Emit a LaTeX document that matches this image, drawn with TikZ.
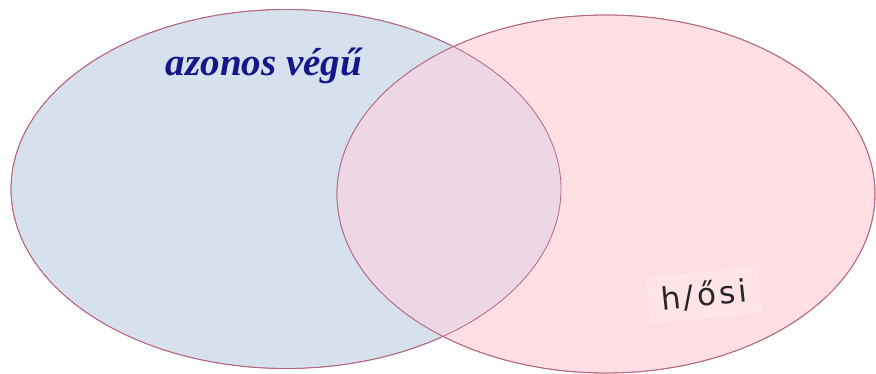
\documentclass[tikz,border=0pt]{standalone}
\usepackage{fontspec}
\setmainfont{Liberation Serif}
\newfontfamily\handfont[LetterSpace=10]{DejaVu Sans}
\usepackage{xcolor}
\usetikzlibrary{shapes.geometric}
\definecolor{Rim}{HTML}{B5647F}
\definecolor{SoftBlue}{HTML}{D7E1EE}
\definecolor{SoftPink}{HTML}{FFDEE4}
\definecolor{SoftMauve}{HTML}{EED7E4}
\definecolor{PalePink}{HTML}{FFE3E8}
\definecolor{Navy}{HTML}{16168A}

\begin{document}
\begin{tikzpicture}[x=1pt,y=-1pt]
  \tikzset{
    setshape/.style={
      ellipse,
      draw=Rim,
      line width=0.8pt,
      inner sep=0pt
    },
    setblue/.style={setshape, fill=SoftBlue, minimum width=550pt, minimum height=359pt},
    setpink/.style={setshape, fill=SoftPink, minimum width=538pt, minimum height=358pt},
    settitle/.style={font=\bfseries\itshape\fontsize{39}{42}\selectfont, text=Navy},
    handnote/.style={font=\handfont\fontsize{31}{34}\selectfont, text=black!85, fill=PalePink, draw=PalePink!50!white, line width=0.6pt, inner xsep=12pt, inner ysep=8pt, rotate=6}
  }

  \useasboundingbox[fill=white] (0,0) rectangle (876,374);

  \node[setblue] (azonos) at (286,189) {};
  \node[setpink] (hosi) at (606,194) {};
  \begin{scope}
    \clip (azonos.center) ellipse [x radius=275, y radius=179.5];
    \fill[SoftMauve] (hosi.center) ellipse [x radius=269, y radius=179];
  \end{scope}
  \draw[Rim, line width=0.8pt] (azonos.center) ellipse [x radius=275, y radius=179.5];
  \draw[Rim, line width=0.8pt] (hosi.center) ellipse [x radius=269, y radius=179];

  \node[settitle] (azonoslabel) at (264,66) {azonos végű};
  \node[handnote] (hosilabel) at (704,295) {h/ősi};
\end{tikzpicture}
\end{document}
